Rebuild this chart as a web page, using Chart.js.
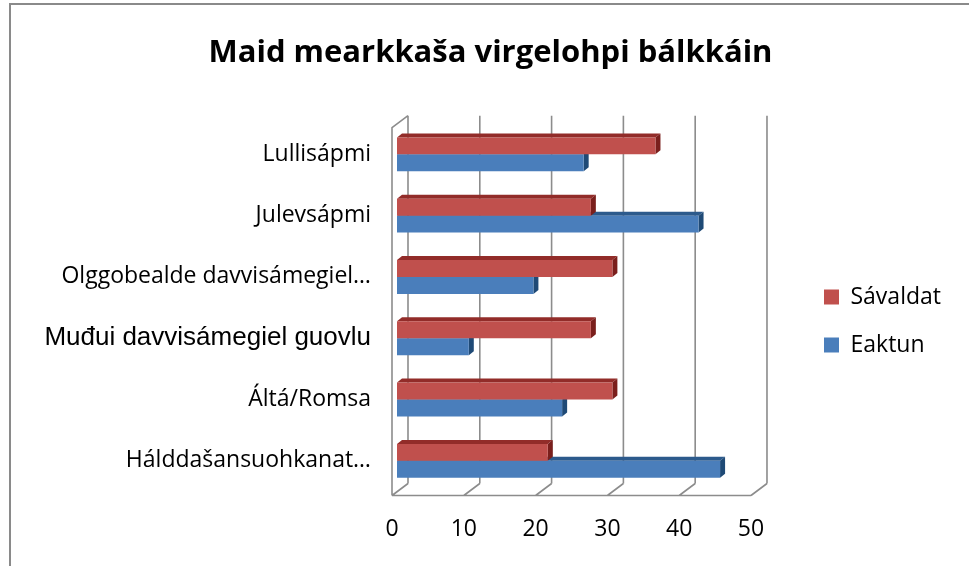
<!DOCTYPE html>
<html>
<head>
<meta charset="utf-8">
<script src="https://cdn.jsdelivr.net/npm/chart.js@4/dist/chart.umd.min.js"></script>
<style>
  html, body { margin: 0; padding: 0; background: #fff; overflow: hidden; }
  #frame {
    position: absolute; left: 9px; top: 3px; width: 1000px; height: 700px;
    border-left: 2px solid #8a8a8a; border-top: 2px solid #8a8a8a;
  }
  #chart { position: absolute; left: 0; top: 0; }
</style>
</head>
<body>
<div id="frame"></div>
<canvas id="chart" width="982" height="642"></canvas>
<script>
// Regions, top to bottom
const regions = [
  'Lullisápmi',
  'Julevsápmi',
  'Olggobealde davvisámegiel…',
  'Muđui davvisámegiel guovlu',
  'Áltá/Romsa',
  'Hálddašansuohkanat…'
];
const savaldat = [36, 27, 30, 27, 30, 21];
const eaktun = [26, 42, 19, 10, 23, 45];
const xTicks = [0, 10, 20, 30, 40, 50];

// 3D look: offsets from the bar plane to the front and back walls,
// and the depth of each bar
const FRONT = { x: -5, y: 4 };
const BACK = { x: 11, y: -8 };
const BAR_DEPTH = { x: 5, y: -4 };

const faceColors = [
  { top: '#922c29', side: '#7a1f1c' },  // Sávaldat
  { top: '#2c5a8c', side: '#1f4a76' }   // Eaktun
];

function poly(ctx, pts, fill) {
  ctx.beginPath();
  ctx.moveTo(pts[0][0], pts[0][1]);
  for (let i = 1; i < pts.length; i++) ctx.lineTo(pts[i][0], pts[i][1]);
  ctx.closePath();
  ctx.fillStyle = fill;
  ctx.fill();
}

const box3d = {
  id: 'box3d',
  beforeDatasetsDraw(chart) {
    const ctx = chart.ctx;
    const area = chart.chartArea;
    const xs = chart.scales.x;

    // walls and floor
    ctx.save();
    ctx.strokeStyle = '#8c8c8c';
    ctx.lineWidth = 1.6;
    ctx.beginPath();
    xTicks.forEach(v => {
      const px = xs.getPixelForValue(v);
      ctx.moveTo(px + BACK.x, area.top + BACK.y);
      ctx.lineTo(px + BACK.x, area.bottom + BACK.y);
      ctx.moveTo(px + FRONT.x, area.bottom + FRONT.y);
      ctx.lineTo(px + BACK.x, area.bottom + BACK.y);
    });
    ctx.moveTo(area.left + FRONT.x, area.bottom + FRONT.y);
    ctx.lineTo(xs.getPixelForValue(xTicks[xTicks.length - 1]) + FRONT.x, area.bottom + FRONT.y);
    ctx.moveTo(area.left + FRONT.x, area.bottom + FRONT.y);
    ctx.lineTo(area.left + FRONT.x, area.top + FRONT.y);
    ctx.lineTo(area.left + BACK.x, area.top + BACK.y);
    ctx.stroke();

    // top and side faces of the bars, lower series first
    for (let d = chart.data.datasets.length - 1; d >= 0; d--) {
      const meta = chart.getDatasetMeta(d);
      meta.data.forEach(bar => {
        const p = bar.getProps(['x', 'y', 'base', 'height'], true);
        const t = p.y - p.height / 2;
        const b = p.y + p.height / 2;
        poly(ctx, [[p.base, t], [p.x, t], [p.x + BAR_DEPTH.x, t + BAR_DEPTH.y], [p.base + BAR_DEPTH.x, t + BAR_DEPTH.y]], faceColors[d].top);
        poly(ctx, [[p.x, t], [p.x + BAR_DEPTH.x, t + BAR_DEPTH.y], [p.x + BAR_DEPTH.x, b + BAR_DEPTH.y], [p.x, b]], faceColors[d].side);
      });
    }
    ctx.restore();
  }
};

new Chart(document.getElementById('chart'), {
  type: 'bar',
  data: {
    labels: regions,
    datasets: [
      { label: 'Sávaldat', data: savaldat, backgroundColor: '#c0504d', borderWidth: 0 },
      { label: 'Eaktun', data: eaktun, backgroundColor: '#4a7ebb', borderWidth: 0 }
    ]
  },
  options: {
    indexAxis: 'y',
    responsive: false,
    animation: false,
    devicePixelRatio: 1,
    layout: { padding: { left: 30, right: 31, top: 0, bottom: 0 } },
    datasets: {
      bar: { barPercentage: 1, categoryPercentage: 0.553 }
    },
    scales: {
      x: {
        min: 0,
        max: 50,
        grid: { display: false, drawTicks: false },
        border: { display: false },
        ticks: {
          stepSize: 10,
          padding: 24,
          labelOffset: -5,
          color: '#000',
          font: { family: 'Open Sans', size: 23 }
        },
        afterFit(scale) { scale.height = 150.5; }
      },
      y: {
        grid: { display: false, drawTicks: false },
        border: { display: false },
        ticks: {
          padding: 26,
          color: '#000',
          font: (c) => c.index === 3
            ? { family: 'Liberation Sans', size: 26 }
            : { family: 'Open Sans', size: 23 }
        },
        afterFit(scale) { scale.width = 367; }
      },
      gap: {
        type: 'linear',
        position: 'right',
        display: true,
        grid: { display: false, drawTicks: false },
        border: { display: false },
        ticks: { display: false },
        afterFit(scale) { scale.width = 43; }
      }
    },
    plugins: {
      title: {
        display: true,
        text: 'Maid mearkkaša virgelohpi bálkkáin',
        color: '#000',
        font: { family: 'Open Sans', size: 31, weight: 'bold' },
        padding: { top: 35, bottom: 51.5 }
      },
      legend: {
        position: 'right',
        labels: {
          boxWidth: 15,
          boxHeight: 15,
          padding: 25,
          color: '#000',
          font: { family: 'Open Sans', size: 23 }
        }
      },
      tooltip: { enabled: false }
    }
  },
  plugins: [box3d]
});
</script>
</body>
</html>
